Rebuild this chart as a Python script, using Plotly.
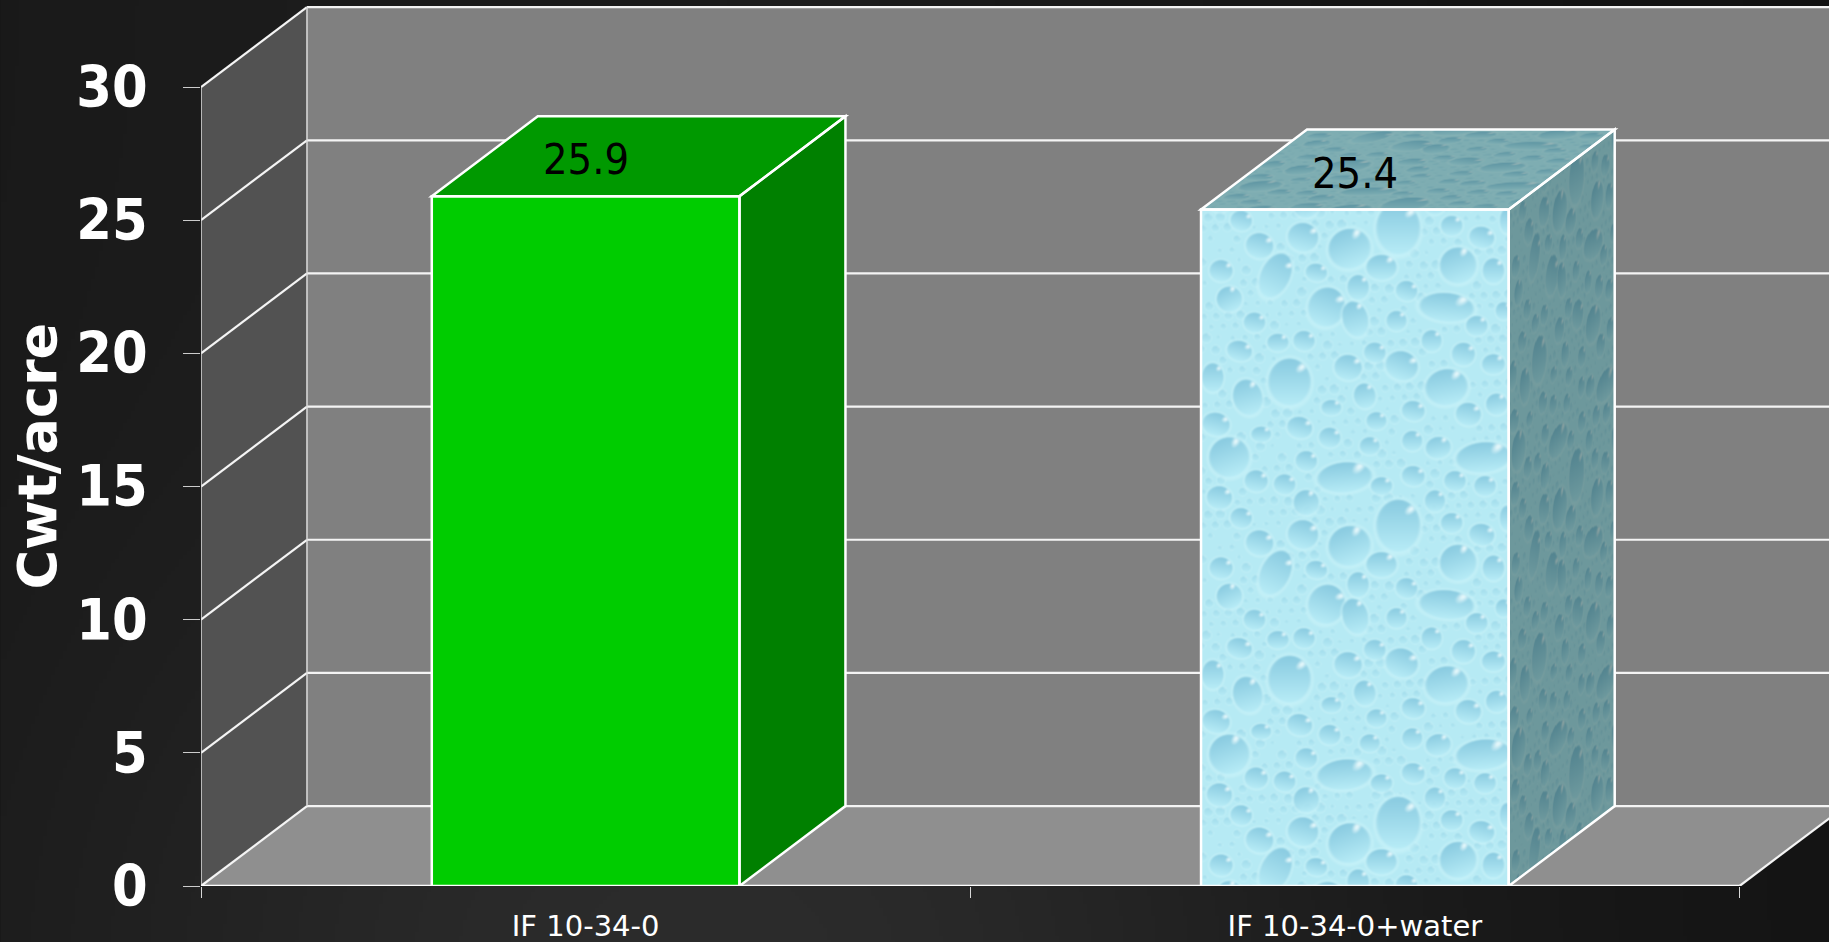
import base64
import struct
import zlib

import numpy as np
import plotly.graph_objects as go

# Chart data
categories = ["IF 10-34-0", "IF 10-34-0+water"]
yield_cwt = [25.9, 25.4]
y_ticks = [0, 5, 10, 15, 20, 25, 30]
y_axis_title = "Cwt/acre"

# Oblique box geometry, in axis units
PX_PER_CATEGORY = 769.5
PX_PER_UNIT = 26.633
BAR_WIDTH = 0.4
DEPTH_X = 106 / PX_PER_CATEGORY
DEPTH_Y = 3.0
FIG_W, FIG_H = 1829, 942
LEFT, BOTTOM = 200.5, 56

LINE = "#f4f4f4"
BODY = "DejaVu Sans Condensed"

# Larger water drops of the bar texture: cx, cy, rx, ry, tilt (tile pixels x 3)
TEXTURE_DROPS = [
    (590, 65, 60, 72, 0), (445, 125, 58, 55, -20), (222, 205, 40, 65, 25), (770, 175, 50, 50, -20),
    (375, 300, 50, 55, 20), (735, 300, 75, 40, 5), (462, 335, 35, 50, -15), (265, 525, 58, 65, 0),
    (735, 540, 58, 50, -10), (140, 570, 40, 50, -15), (85, 750, 55, 55, -20), (845, 750, 75, 42, -5),
    (430, 810, 75, 42, -5), (600, 475, 45, 40, 20), (305, 90, 42, 40, 15), (175, 115, 38, 35, 15),
    (120, 40, 30, 28, 15), (540, 180, 42, 35, 0), (875, 190, 30, 35, 0), (915, 40, 20, 35, 0),
    (750, 55, 30, 28, 0), (840, 90, 35, 30, 15), (60, 190, 32, 30, 10), (345, 195, 30, 25, 10),
    (85, 275, 35, 35, -25), (470, 240, 30, 35, 0), (615, 250, 30, 28, 15), (160, 345, 30, 28, 10),
    (585, 340, 28, 28, 0), (825, 355, 30, 28, 0), (905, 310, 22, 25, 0), (115, 430, 35, 28, 15),
    (230, 405, 30, 25, 0), (308, 400, 30, 28, 10), (520, 435, 30, 28, 10), (690, 400, 28, 30, 0),
    (785, 440, 32, 32, 10), (875, 470, 32, 28, 0), (440, 480, 38, 35, 10), (35, 510, 30, 40, 0),
    (490, 565, 30, 35, -10), (390, 600, 28, 22, 0), (635, 610, 32, 28, 10), (800, 620, 35, 32, 10),
    (885, 590, 30, 30, -10), (45, 650, 38, 32, 15), (295, 660, 35, 30, 15), (525, 640, 28, 25, 0),
    (385, 690, 30, 28, 10), (180, 680, 28, 22, 0), (632, 700, 28, 28, 0), (505, 715, 28, 25, 0),
    (710, 720, 35, 30, -10), (315, 760, 30, 28, 10), (165, 820, 32, 30, 10), (250, 830, 30, 28, 10),
    (540, 835, 30, 25, 0), (635, 805, 32, 28, 10), (760, 820, 30, 28, 5), (850, 835, 30, 28, 0),
    (55, 870, 35, 32, 10), (315, 885, 35, 35, -15), (700, 880, 28, 30, 0),
]
TILE_W, TILE_H = 308, 297


def png_uri(rgba):
    """Encode an RGBA uint8 array as a PNG data URI."""
    h, w, _ = rgba.shape
    raw = b"".join(b"\x00" + rgba[row].tobytes() for row in range(h))

    def chunk(tag, payload):
        body = tag + payload
        return struct.pack(">I", len(payload)) + body + struct.pack(">I", zlib.crc32(body))

    data = b"\x89PNG\r\n\x1a\n"
    data += chunk(b"IHDR", struct.pack(">IIBBBBB", w, h, 8, 6, 0, 0, 0))
    data += chunk(b"IDAT", zlib.compress(raw, 9))
    data += chunk(b"IEND", b"")
    return "data:image/png;base64," + base64.b64encode(data).decode()


def with_alpha(rgb, alpha=None):
    a = np.ones(rgb.shape[:2]) if alpha is None else alpha
    out = np.dstack([np.clip(rgb, 0, 255), a * 255])
    return out.round().astype(np.uint8)


def water_tile():
    """Paint one repeating tile of water drops."""
    base = np.array([182.0, 234.0, 244.0])
    dark = np.array([128.0, 196.0, 220.0])
    halo = np.array([206.0, 245.0, 250.0])
    white = np.array([236.0, 251.0, 253.0])
    yy, xx = np.mgrid[0:TILE_H, 0:TILE_W] + 0.5
    img = np.ones((TILE_H, TILE_W, 3)) * base

    drops = [(c / 3, d / 3, a / 3 * 1.15, b / 3 * 1.15, t) for c, d, a, b, t in TEXTURE_DROPS]
    extras = []
    for i in range(1, 620):
        cx = (i * 0.6180339) % 1 * TILE_W
        cy = (i * 0.7548776) % 1 * TILE_H
        r = 2.2 + (i * 0.5698403) % 1 * 3.4
        clear = all(
            ((cx - d[0]) / (d[2] + 2.5)) ** 2 + ((cy - d[1]) / (d[3] + 2.5)) ** 2 > 1 for d in drops + extras
        )
        if clear:
            extras.append((cx, cy, r, r, 0))

    for cx, cy, rx, ry, tilt in extras + drops:
        ang = np.radians(tilt)
        big = rx > 7
        for off in (-TILE_H, 0, TILE_H):
            dx, dy = xx - cx, yy - (cy + off)
            xp = dx * np.cos(ang) + dy * np.sin(ang)
            yp = -dx * np.sin(ang) + dy * np.cos(ang)
            dist = np.sqrt((xp / rx) ** 2 + (yp / ry) ** 2)
            ring = np.clip((1.16 - dist) / 0.16, 0, 1) * (1 - np.clip((0.98 - dist) / 0.1, 0, 1)) * 0.55
            img += (halo - img) * ring[..., None]
            inside = np.clip((1 - dist) * min(rx, ry) / 1.5, 0, 1)
            t = np.clip((yp / ry + 1) / 2, 0, 1)[..., None]
            strength = 0.85 if big else 0.42
            colour = dark + (base + 4 - dark) * t**1.0
            img += (colour - img) * inside[..., None] * strength
            if big:
                # Pale rim along the lower edge of each drop
                rim = np.clip((dist - 0.86) / 0.1, 0, 1) * t[..., 0] * inside
                img += (halo - img) * rim[..., None] * 0.7
            # Streak of light near the upper right of the drop
            ax, ay = xp - 0.55 * rx, yp + 0.62 * ry
            sx = ax * np.cos(0.85) + ay * np.sin(0.85)
            sy = -ax * np.sin(0.85) + ay * np.cos(0.85)
            spec = np.clip(1.25 - np.sqrt((sx / (0.12 * rx + 1.0)) ** 2 + (sy / (0.28 * rx)) ** 2), 0, 1)
            img += (white - img) * spec[..., None] * inside[..., None] * (0.9 if big else 0.4)

    soft = img.copy()
    for ax in (0, 1):
        soft = (np.roll(soft, 1, ax) + 2 * soft + np.roll(soft, -1, ax)) / 4
    return soft


TILE = water_tile()


def sample(u, v):
    iu = np.clip(np.floor(u).astype(int), 0, TILE_W - 1)
    iv = np.floor(v).astype(int) % TILE_H
    return TILE[iv, iu]


def front_face(height_px):
    yy, xx = np.mgrid[0:height_px, 0:int(BAR_WIDTH * PX_PER_CATEGORY)]
    return with_alpha(sample(xx + 0.5, yy + 2.0))


def side_face(height_px):
    dx_px = int(round(DEPTH_X * PX_PER_CATEGORY))
    dy_px = int(round(DEPTH_Y * PX_PER_UNIT))
    yy, xx = np.mgrid[0:height_px + dy_px, 0:dx_px]
    s = (xx + 0.5) / dx_px
    v = yy - dy_px + s * dy_px
    stretch = TILE_W / dx_px
    rgb = sum(sample((xx + 0.5 + k) * stretch, v + 2.0) for k in (-0.33, 0, 0.33)) / 3
    rgb = rgb * np.array([0.60, 0.65, 0.64])
    alpha = ((v >= 0) & (v <= height_px)).astype(float)
    return with_alpha(rgb, alpha)


def top_face():
    dx_px = int(round(DEPTH_X * PX_PER_CATEGORY))
    dy_px = int(round(DEPTH_Y * PX_PER_UNIT))
    w_px = int(BAR_WIDTH * PX_PER_CATEGORY)
    yy, xx = np.mgrid[0:dy_px, 0:w_px + dx_px]
    s = 1 - (yy + 0.5) / dy_px
    u = xx + 0.5 - s * dx_px
    stretch = TILE_H / dy_px
    rgb = sum(sample(u, (dy_px - s * dy_px + k) * stretch + 40) for k in (-0.33, 0, 0.33)) / 3
    rgb = rgb * np.array([0.69, 0.74, 0.73])
    alpha = ((u >= 0) & (u <= w_px)).astype(float)
    return with_alpha(rgb, alpha)


def backdrop():
    """Dark slide background that brightens towards the lower middle."""
    h, w = FIG_H // 4, FIG_W // 4
    yy, xx = np.mgrid[0:h, 0:w]
    glow = np.exp(-(((xx * 4 - 760) / 620.0) ** 2) - (((yy * 4 - 960) / 430.0) ** 2))
    wash = np.exp(-(((xx * 4 - 500) / 900.0) ** 2))
    level = 18 + 10 * wash + 16 * glow
    return with_alpha(np.dstack([level] * 3))


def path(points):
    return "M" + " L".join(f"{x:.5f} {y:.5f}" for x, y in points) + " Z"


def line_shape(x0, y0, x1, y1, color=LINE, width=2.2, layer="below"):
    return dict(type="line", xref="x", yref="y", x0=x0, y0=y0, x1=x1, y1=y1, layer=layer,
                line=dict(color=color, width=width))


def poly_shape(points, fill, layer="below"):
    return dict(type="path", xref="x", yref="y", path=path(points), fillcolor=fill, layer=layer,
                line=dict(width=0))


n_cat = len(categories)
x_max = (FIG_W - LEFT) / PX_PER_CATEGORY
y_max = (FIG_H - BOTTOM) / PX_PER_UNIT
top_tick = y_ticks[-1]

# Box walls and floor
shapes = [
    poly_shape([(0, 0), (DEPTH_X, DEPTH_Y), (DEPTH_X, top_tick + DEPTH_Y), (0, top_tick)], "#525252"),
    poly_shape([(DEPTH_X, DEPTH_Y), (n_cat + DEPTH_X, DEPTH_Y), (n_cat + DEPTH_X, top_tick + DEPTH_Y),
                (DEPTH_X, top_tick + DEPTH_Y)], "#808080"),
    poly_shape([(0, 0), (n_cat, 0), (n_cat + DEPTH_X, DEPTH_Y), (DEPTH_X, DEPTH_Y)], "#8f8f8f"),
]
for tick in y_ticks:
    shapes.append(line_shape(0, tick, DEPTH_X, tick + DEPTH_Y))
    shapes.append(line_shape(DEPTH_X, tick + DEPTH_Y, n_cat + DEPTH_X, tick + DEPTH_Y))
shapes += [
    line_shape(0, 0, 0, top_tick, "#dcdcdc", 1.5),
    line_shape(DEPTH_X, DEPTH_Y, DEPTH_X, top_tick + DEPTH_Y, "#dcdcdc", 1.5),
    line_shape(0, 0, n_cat, 0, "#ffffff", 2.5),
    line_shape(n_cat, 0, n_cat + DEPTH_X, DEPTH_Y),
]

fig = go.Figure()
centers = [i + 0.5 for i in range(n_cat)]
front_colors = ["#00cc00", "#bce8f1"]
top_colors = ["#009900", "#7fa8b2"]
side_colors = ["#008000", "#6f97a3"]

fig.add_trace(go.Bar(x=centers, y=yield_cwt, width=BAR_WIDTH, marker=dict(color=front_colors, line=dict(width=0)),
                     hoverinfo="skip", showlegend=False))

images = [dict(source=png_uri(backdrop()), xref="paper", yref="paper", x=-LEFT / (FIG_W - LEFT), y=1,
               sizex=FIG_W / (FIG_W - LEFT), sizey=FIG_H / (FIG_H - BOTTOM), sizing="stretch", layer="below")]

annotations = []
for i, (cx, val) in enumerate(zip(centers, yield_cwt)):
    x0, x1 = cx - BAR_WIDTH / 2, cx + BAR_WIDTH / 2
    side = [(x1, 0), (x1 + DEPTH_X, DEPTH_Y), (x1 + DEPTH_X, val + DEPTH_Y), (x1, val)]
    top = [(x0, val), (x1, val), (x1 + DEPTH_X, val + DEPTH_Y), (x0 + DEPTH_X, val + DEPTH_Y)]
    for pts, colour in ((side, side_colors[i]), (top, top_colors[i])):
        xs, ys = zip(*(pts + pts[:1]))
        fig.add_trace(go.Scatter(x=xs, y=ys, mode="lines", fill="toself", fillcolor=colour,
                                 line=dict(width=0), hoverinfo="skip", showlegend=False))
    # Bar outline sits above the texture
    for face in ([(x0, 0), (x0, val), (x1, val), (x1, 0)], top, side):
        shapes.append(dict(type="path", xref="x", yref="y", layer="above", path=path(face),
                           line=dict(color="#ffffff", width=2.5)))
    annotations.append(dict(x=cx, y=val, xref="x", yref="y", text=f"{val:.1f}", showarrow=False, yshift=37,
                            font=dict(family=BODY, size=43, color="#000000")))

# Value axis title, centred beside the ticks
annotations.append(dict(x=(36 - LEFT) / (FIG_W - LEFT), xref="paper", y=(FIG_H - BOTTOM - 456) / PX_PER_UNIT, yref="y",
                        text=y_axis_title, textangle=-90, showarrow=False, xanchor="center", yanchor="middle",
                        font=dict(family="DejaVu Sans", size=54, color="#ffffff", weight="bold")))

# The water treatment bar carries the drop texture on all three faces
water_val = yield_cwt[1]
water_px = int(round(water_val * PX_PER_UNIT))
wx0 = centers[1] - BAR_WIDTH / 2
wx1 = centers[1] + BAR_WIDTH / 2
images += [
    dict(source=png_uri(front_face(water_px)), xref="x", yref="y", x=wx0, y=water_val, sizex=BAR_WIDTH, sizey=water_val,
         sizing="stretch", layer="above"),
    dict(source=png_uri(side_face(water_px)), xref="x", yref="y", x=wx1, y=water_val + DEPTH_Y, sizex=DEPTH_X,
         sizey=water_val + DEPTH_Y, sizing="stretch", layer="above"),
    dict(source=png_uri(top_face()), xref="x", yref="y", x=wx0, y=water_val + DEPTH_Y, sizex=BAR_WIDTH + DEPTH_X,
         sizey=DEPTH_Y, sizing="stretch", layer="above"),
]

fig.update_layout(
    width=FIG_W,
    height=FIG_H,
    margin=dict(l=LEFT, r=0, t=0, b=BOTTOM, autoexpand=False),
    paper_bgcolor="#161616",
    plot_bgcolor="rgba(0,0,0,0)",
    showlegend=False,
    barmode="overlay",
    shapes=shapes,
    images=images,
    annotations=annotations,
    xaxis=dict(
        range=[0, x_max],
        tickmode="array",
        tickvals=centers,
        ticktext=categories,
        ticks="",
        ticklabelstandoff=20,
        tickfont=dict(family="DejaVu Sans", size=29, color="#ffffff"),
        showgrid=False,
        zeroline=False,
        showline=False,
        minor=dict(tickmode="array", tickvals=list(range(n_cat + 1)), ticks="outside", ticklen=11, tickwidth=1,
                   tickcolor="#d8d8d8", showgrid=False),
        fixedrange=True,
    ),
    yaxis=dict(
        range=[0, y_max],
        tickmode="array",
        tickvals=y_ticks,
        ticks="outside",
        ticklen=17,
        tickwidth=1,
        tickcolor="#cccccc",
        ticklabelstandoff=24,
        tickfont=dict(family=BODY, size=57, color="#ffffff", weight="bold"),
        showgrid=False,
        zeroline=False,
        showline=False,
        fixedrange=True,
    ),
)

fig.write_html("out.html", config=dict(displayModeBar=False))
